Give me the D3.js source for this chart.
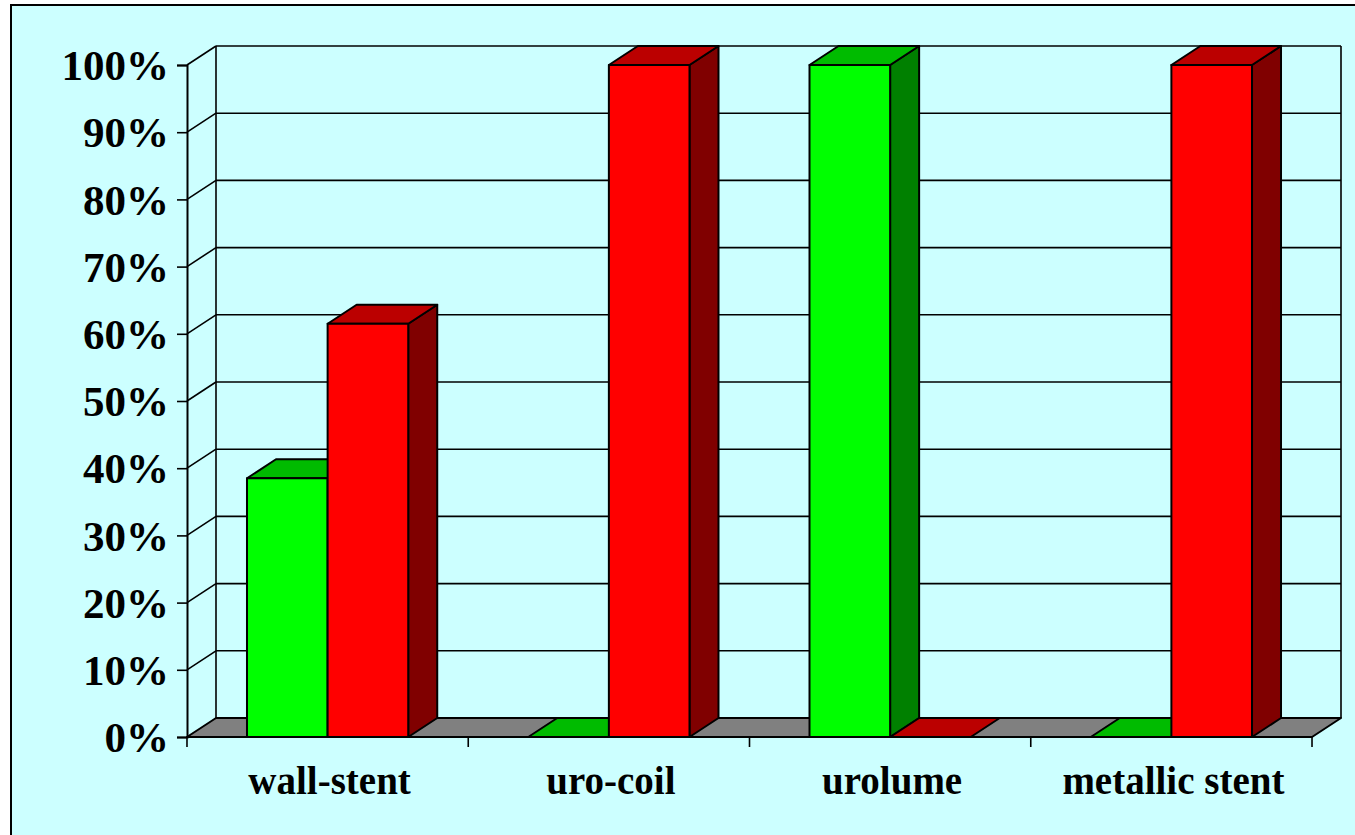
<!DOCTYPE html>
<html>
<head>
<meta charset="utf-8">
<script src="https://cdn.jsdelivr.net/npm/d3@7"></script>
<style>
  html, body { margin: 0; padding: 0; background: #ffffff; }
  svg { display: block; }
</style>
</head>
<body>
<svg id="chart" width="1355" height="835"></svg>
<script>
var categories = ["wall-stent", "uro-coil", "urolume", "metallic stent"];
var seriesNames = ["green", "red"];
var greenValues = [0.385, 0, 1, 0];
var redValues = [0.615, 1, 0, 1];
var yTicks = [0, 0.1, 0.2, 0.3, 0.4, 0.5, 0.6, 0.7, 0.8, 0.9, 1];

var colors = {
  green: { front: "#00ff00", top: "#00bb00", side: "#008000" },
  red:   { front: "#ff0000", top: "#bb0000", side: "#800000" }
};

var svg = d3.select("#chart");

// depth offset of the 3d box
var dx = 29, dy = -19;

var x = d3.scaleBand()
  .domain(categories)
  .range([187, 1312])
  .paddingInner(0.4267)
  .paddingOuter(0.2133);

var xs = d3.scaleBand()
  .domain(seriesNames)
  .range([0, x.bandwidth()]);

var y = d3.scaleLinear()
  .domain([0, 1])
  .range([737, 65]);

// background panel with border (only top/left visible in frame)
svg.append("rect")
  .attr("x", 0).attr("y", 0).attr("width", 1355).attr("height", 835)
  .attr("fill", "#ffffff");
svg.append("rect")
  .attr("x", 11).attr("y", 5).attr("width", 1400).attr("height", 900)
  .attr("fill", "#ccffff")
  .attr("stroke", "#000").attr("stroke-width", 2);

var x0 = x.range()[0], x1 = x.range()[1];

// walls: gridlines on back wall and side wall
var grid = svg.append("g");
yTicks.forEach(function(t) {
  if (t === 0) return;
  grid.append("line")
    .attr("x1", x0 + dx).attr("x2", x1 + dx)
    .attr("y1", y(t) + dy).attr("y2", y(t) + dy)
    .attr("stroke", "#000").attr("stroke-width", 1.6);
  grid.append("line")
    .attr("x1", x0).attr("x2", x0 + dx)
    .attr("y1", y(t)).attr("y2", y(t) + dy)
    .attr("stroke", "#000").attr("stroke-width", 1.6);
});
grid.append("line")
  .attr("x1", x0 + dx).attr("x2", x0 + dx)
  .attr("y1", y(1) + dy).attr("y2", y(0) + dy)
  .attr("stroke", "#000").attr("stroke-width", 1.6);
grid.append("line")
  .attr("x1", x1 + dx).attr("x2", x1 + dx)
  .attr("y1", y(1) + dy).attr("y2", y(0) + dy)
  .attr("stroke", "#000").attr("stroke-width", 1.6);

// floor
svg.append("path")
  .attr("d", d3.line()([[x0, y(0)], [x1, y(0)], [x1 + dx, y(0) + dy], [x0 + dx, y(0) + dy]]) + "Z")
  .attr("fill", "#808080")
  .attr("stroke", "#000").attr("stroke-width", 2).attr("stroke-linejoin", "round");

// bars
var bars = [];
categories.forEach(function(c, i) {
  bars.push({ cat: c, s: "green", v: greenValues[i] });
  bars.push({ cat: c, s: "red", v: redValues[i] });
});

var barG = svg.append("g");
bars.forEach(function(d) {
  var bx0 = x(d.cat) + xs(d.s);
  var bx1 = bx0 + xs.bandwidth();
  var by0 = y(0), by1 = y(d.v);
  var col = colors[d.s];
  var g = barG.append("g")
    .attr("stroke", "#000").attr("stroke-width", 2).attr("stroke-linejoin", "round");
  if (d.v > 0) {
    g.append("path")
      .attr("d", d3.line()([[bx1, by0], [bx1 + dx, by0 + dy], [bx1 + dx, by1 + dy], [bx1, by1]]) + "Z")
      .attr("fill", col.side);
    g.append("path")
      .attr("d", d3.line()([[bx0, by1], [bx1, by1], [bx1 + dx, by1 + dy], [bx0 + dx, by1 + dy]]) + "Z")
      .attr("fill", col.top);
    g.append("rect")
      .attr("x", bx0).attr("y", by1)
      .attr("width", bx1 - bx0).attr("height", by0 - by1)
      .attr("fill", col.front);
  } else {
    g.append("path")
      .attr("d", d3.line()([[bx0, by0], [bx1, by0], [bx1 + dx, by0 + dy], [bx0 + dx, by0 + dy]]) + "Z")
      .attr("fill", col.top);
  }
});

// y axis
var yAxis = d3.axisLeft(y)
  .tickValues(yTicks)
  .tickFormat(d3.format(".0%"))
  .tickSize(10)
  .tickPadding(8);

var yG = svg.append("g")
  .attr("transform", "translate(" + x0 + ",0)")
  .call(yAxis);
yG.select(".domain").attr("stroke", "#000").attr("stroke-width", 2);
yG.selectAll(".tick line").attr("stroke", "#000").attr("stroke-width", 1.6);
yG.selectAll(".tick text")
  .attr("font-family", "'Liberation Serif', 'Times New Roman', serif")
  .attr("font-weight", "bold")
  .attr("font-size", 43)
  .attr("fill", "#000")
  .attr("dy", "0.34em");

// x axis: ticks at category boundaries, labels centred
var half = (x.step() - x.bandwidth()) / 2;
var bounds = categories.map(function(c) { return x(c) - half; });
bounds.push(x(categories[categories.length - 1]) + x.bandwidth() + half);

var xG = svg.append("g");
xG.append("line")
  .attr("x1", x0).attr("x2", x1)
  .attr("y1", y(0)).attr("y2", y(0))
  .attr("stroke", "#000").attr("stroke-width", 2);
xG.selectAll("line.tick")
  .data(bounds)
  .enter().append("line")
  .attr("class", "tick")
  .attr("x1", function(d) { return d; })
  .attr("x2", function(d) { return d; })
  .attr("y1", y(0)).attr("y2", y(0) + 10)
  .attr("stroke", "#000").attr("stroke-width", 1.6);
xG.selectAll("text")
  .data(categories)
  .enter().append("text")
  .attr("x", function(d) { return x(d) + x.bandwidth() / 2 + 2; })
  .attr("y", 794)
  .attr("text-anchor", "middle")
  .attr("font-family", "'Liberation Serif', 'Times New Roman', serif")
  .attr("font-weight", "bold")
  .attr("font-size", 39)
  .attr("fill", "#000")
  .text(function(d) { return d; });
</script>
</body>
</html>
